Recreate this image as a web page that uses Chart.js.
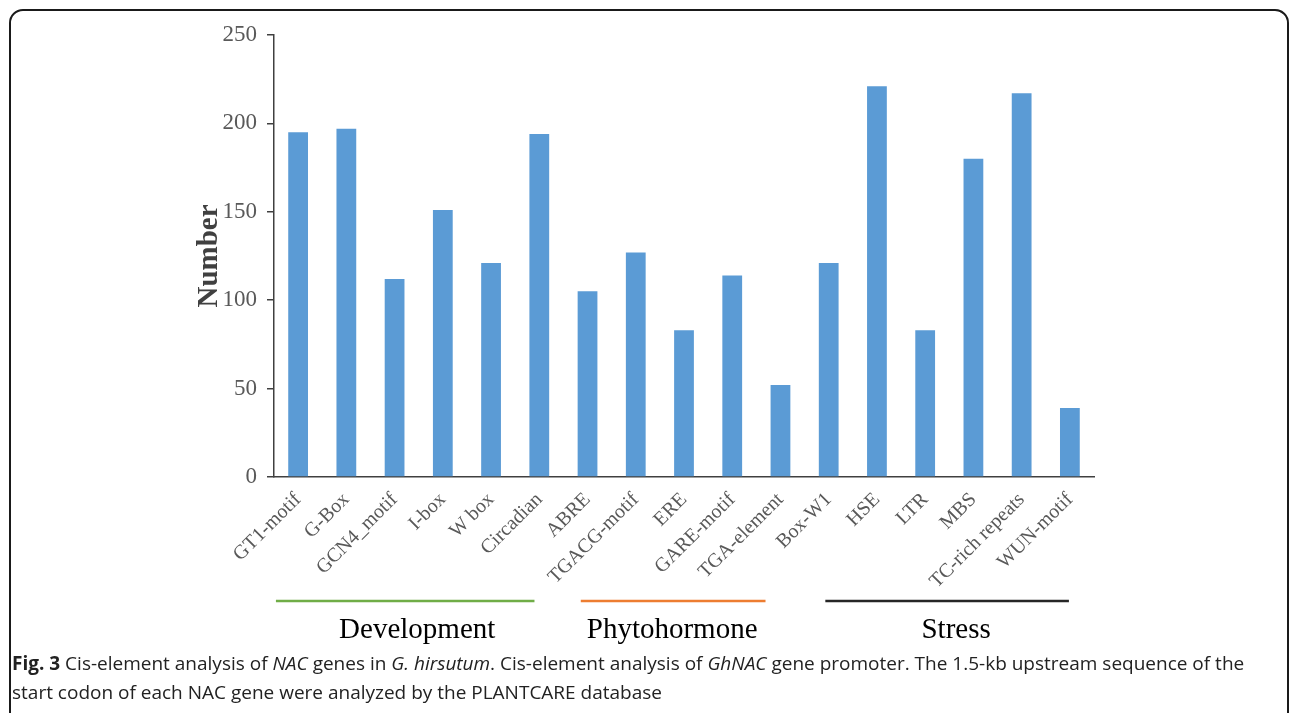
<!DOCTYPE html>
<html>
<head>
<meta charset="utf-8">
<script src="https://cdn.jsdelivr.net/npm/chart.js@4"></script>
<style>
  body { margin: 0; background: #fff; }
  #wrap { position: relative; width: 1290px; height: 713px; overflow: hidden; }
  #frame {
    position: absolute; left: 9px; top: 9px; width: 1276px; height: 760px;
    border: 2px solid #1a1a1a; border-radius: 14px; pointer-events: none;
  }
  #caption {
    position: absolute; left: 12px; top: 649px; width: 1245px;
    font-family: "Open Sans", sans-serif; font-size: 19px; line-height: 29px;
    color: #222;
  }
  #caption b { font-weight: 700; }
</style>
</head>
<body>
<div id="wrap">
  <canvas id="chart" width="1290" height="713"></canvas>
  <div id="frame"></div>
  <div id="caption"><b>Fig. 3</b> Cis-element analysis of <i>NAC</i> genes in <i>G. hirsutum</i>. Cis-element analysis of <i>GhNAC</i> gene promoter. The 1.5-kb upstream sequence of the start codon of each NAC gene were analyzed by the PLANTCARE database</div>
</div>
<script>
const elements = ['GT1-motif', 'G-Box', 'GCN4_motif', 'I-box', 'W box', 'Circadian',
  'ABRE', 'TGACG-motif', 'ERE', 'GARE-motif', 'TGA-element',
  'Box-W1', 'HSE', 'LTR', 'MBS', 'TC-rich repeats', 'WUN-motif'];
const counts = [195, 197, 112, 151, 121, 194, 105, 127, 83, 114, 52, 121, 221, 83, 180, 217, 39];
const yTicks = [0, 50, 100, 150, 200, 250];

const groupNames = ['Development', 'Phytohormone', 'Stress'];
const groupFrom = [-0.46, 5.86, 10.93];
const groupTo = [4.9, 9.69, 15.98];
const groupColors = ['#70AD47', '#ED7D31', '#262626'];

const serif = '"Liberation Serif", "Times New Roman", serif';

// labels under the lines aren't exactly centred in the original
const labelNudge = [12, -1, 9];

const groupPlugin = {
  id: 'groups',
  afterDraw(chart) {
    const x = chart.scales.x;
    const ctx = chart.ctx;
    ctx.save();
    groupNames.forEach((name, i) => {
      const a = x.getPixelForValue(groupFrom[i]);
      const b = x.getPixelForValue(groupTo[i]);
      ctx.strokeStyle = groupColors[i];
      ctx.lineWidth = 2.5;
      ctx.beginPath();
      ctx.moveTo(a, 601);
      ctx.lineTo(b, 601);
      ctx.stroke();
      ctx.fillStyle = '#000';
      ctx.font = '29px ' + serif;
      ctx.textAlign = 'center';
      ctx.textBaseline = 'alphabetic';
      ctx.fillText(name, (a + b) / 2 + labelNudge[i], 638);
    });
    ctx.restore();
  }
};

new Chart(document.getElementById('chart'), {
  type: 'bar',
  data: {
    labels: elements,
    datasets: [{
      data: counts,
      backgroundColor: '#5B9BD5',
      categoryPercentage: 1,
      barPercentage: 0.41
    }]
  },
  options: {
    responsive: false,
    animation: false,
    layout: { padding: { top: 35, right: 196, left: 188, bottom: 0 } },
    plugins: { legend: { display: false }, tooltip: { enabled: false } },
    scales: {
      x: {
        grid: { display: false },
        border: { display: true, color: '#404040', width: 1.5 },
        ticks: {
          autoSkip: false, minRotation: 45, maxRotation: 45,
          font: { family: serif, size: 20 }, color: '#595959'
        },
        afterFit(scale) { scale.height = 236; }
      },
      y: {
        min: 0, max: 250,
        afterBuildTicks(scale) { scale.ticks = yTicks.map(v => ({ value: v })); },
        grid: { drawOnChartArea: false, tickLength: 7, color: '#404040', lineWidth: 1.5 },
        border: { color: '#404040', width: 1.5 },
        ticks: { padding: 10, font: { family: serif, size: 23 }, color: '#595959' },
        title: {
          display: true, text: 'Number', color: '#404040',
          font: { family: serif, size: 29, weight: 'bold' }
        },
        afterFit(scale) { scale.width = 86; }
      }
    }
  },
  plugins: [groupPlugin]
});
</script>
</body>
</html>
